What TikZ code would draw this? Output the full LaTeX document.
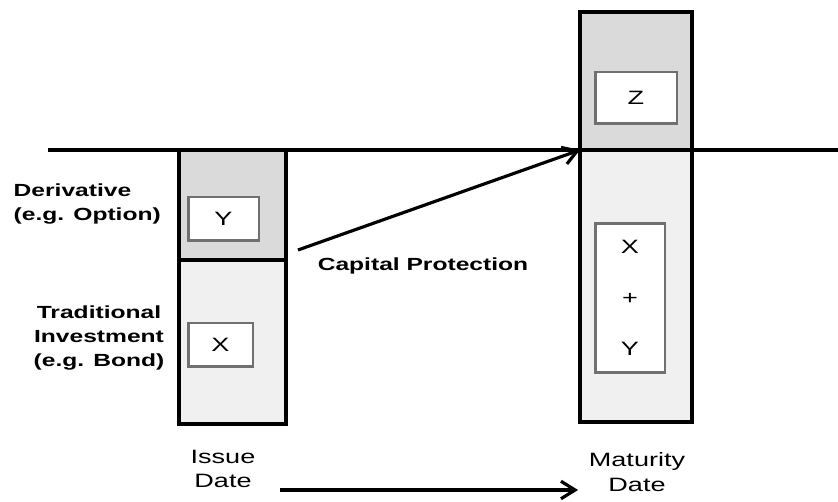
\documentclass[tikz,border=0pt]{standalone}
\usepackage{fontspec}
\setmainfont[FakeStretch=1.4]{Liberation Sans}
\usetikzlibrary{positioning,arrows.meta}
\definecolor{darkpart}{HTML}{DADADA}
\definecolor{lightpart}{HTML}{F0F0F0}
\definecolor{innerline}{HTML}{707070}

\begin{document}
\begin{tikzpicture}[x=0.02cm,y=-0.02cm,>={Straight Barb[length=8pt,width=10pt]},thick,
  part node/.style={draw,line width=2.2pt,outer sep=0pt,inner sep=0pt},
  inner node/.style={draw=innerline,fill=white,line width=1.7pt,inner sep=0pt,font=\fontsize{11}{14}\selectfont},
  side node/.style={font=\bfseries\fontsize{10}{13.5}\selectfont,inner sep=0pt},
  date node/.style={font=\fontsize{11}{14}\selectfont,align=center,inner sep=0pt}]
                \useasboundingbox (0,0) rectangle (838,502);

                % issue date column
                \node[part node,fill=darkpart,minimum width=2.14cm,minimum height=2.2cm] (deriv) at (232.5,205) {};
                \node[part node,fill=lightpart,minimum width=2.14cm,minimum height=3.28cm] (trad) [below=0pt of deriv] {};
                \node[inner node,minimum width=1.42cm,minimum height=0.88cm] (y) at (223.5,219) {Y};
                \node[inner node,minimum width=1.3cm,minimum height=0.88cm] (x) at (220.5,345) {X};

                % maturity date column
                \node[part node,fill=darkpart,minimum width=2.24cm,minimum height=2.76cm] (gain) at (636,81) {};
                \node[part node,fill=lightpart,minimum width=2.24cm,minimum height=5.44cm] (mat) [below=0pt of gain] {};
                \node[inner node,minimum width=1.64cm,minimum height=1.04cm] (z) at (636,98) {Z};
                \node[inner node,minimum width=1.4cm,minimum height=3cm,align=center,font=\fontsize{11}{29}\selectfont] (xy) at (630,298) {X\\+\\Y};

                % level line
                \coordinate (l0) at (48,150);
                \coordinate (l1) at (838,150);
                \draw[line width=2.4pt] (l0) -- (l1);

                % labels
                \node[side node,anchor=west,align=left] (dl) at (13,204) {Derivative\\(e.g. Option)};
                \node[side node,align=center] (tl) at (99,338) {Traditional\\Investment\\(e.g. Bond)};
                \node[side node] (cp) at (423,266) {Capital Protection};
                \node[date node] (issue) at (223,469) {Issue\\Date};
                \node[date node] (matd) at (637,472) {Maturity\\Date};

                % arrows
                \coordinate (c0) at (298,250);
                \coordinate (t0) at (280,490);
                \coordinate (t1) at (578,490);
                \path[->,line width=1.8pt]
                    (c0) edge (mat.north west)
                    (t0) edge (t1)
                    ;
            \end{tikzpicture}
\end{document}
